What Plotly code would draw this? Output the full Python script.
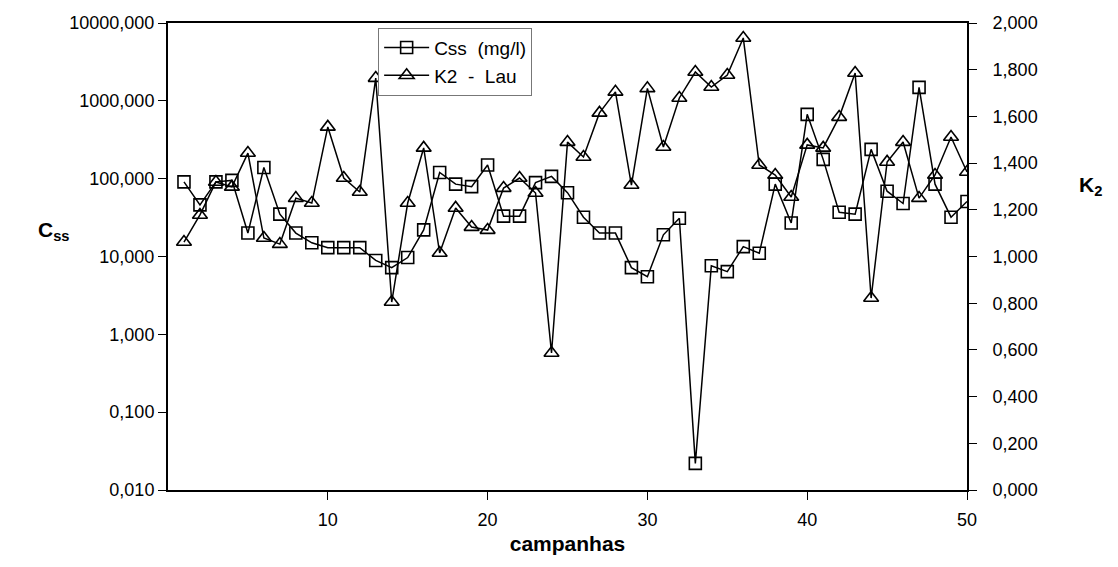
import plotly.graph_objects as go

campanhas = list(range(1, 51))
css = [91, 46, 91, 95, 20, 139, 35, 20, 15, 13,
       13, 13, 8.9, 7.2, 9.7, 22, 120, 85, 79, 150,
       33, 33, 89, 107, 66, 32, 20, 20, 7.2, 5.5,
       19, 31, 0.022, 7.6, 6.4, 13.4, 11, 85, 27, 670,
       177, 37, 35, 238, 69, 48, 1490, 85, 32, 51]
k2 = [1.062, 1.178, 1.319, 1.298, 1.443, 1.079, 1.053, 1.25, 1.229, 1.555,
      1.336, 1.276, 1.764, 0.805, 1.229, 1.465, 1.015, 1.208, 1.126, 1.113,
      1.293, 1.336, 1.272, 0.587, 1.49, 1.426, 1.615, 1.705, 1.306, 1.72,
      1.469, 1.679, 1.79, 1.726, 1.777, 1.936, 1.392, 1.349, 1.255, 1.478,
      1.465, 1.597, 1.786, 0.822, 1.405, 1.49, 1.25, 1.349, 1.512, 1.362]

left_tickvals = [0.01, 0.1, 1, 10, 100, 1000, 10000]
left_ticktext = ["0,010", "0,100", "1,000", "10,000", "100,000", "1000,000", "10000,000"]
right_tickvals = [0, 0.2, 0.4, 0.6, 0.8, 1.0, 1.2, 1.4, 1.6, 1.8, 2.0]
right_ticktext = ["0,000", "0,200", "0,400", "0,600", "0,800", "1,000", "1,200", "1,400", "1,600", "1,800", "2,000"]
x_tickvals = [10, 20, 30, 40, 50]

FONT = "Liberation Sans, Arial, sans-serif"

fig = go.Figure()
fig.add_trace(go.Scatter(
    x=campanhas, y=css, name="Css  (mg/l)", mode="lines+markers",
    line=dict(color="black", width=1.5),
    marker=dict(symbol="square-open", size=12, color="black", line=dict(width=1.6)),
    yaxis="y"))
fig.add_trace(go.Scatter(
    x=campanhas, y=k2, name="K2  -  Lau", mode="lines+markers",
    line=dict(color="black", width=1.5),
    marker=dict(symbol="triangle-up-open", size=13, color="black", line=dict(width=1.6)),
    yaxis="y2"))

fig.update_layout(
    width=1118, height=567,
    margin=dict(l=168, r=151, t=23, b=77),
    paper_bgcolor="white", plot_bgcolor="white",
    font=dict(family=FONT, size=18, color="black"),
    showlegend=True,
    legend=dict(x=0.263, y=0.99, xanchor="left", yanchor="top",
                bgcolor="white", bordercolor="#777", borderwidth=1,
                font=dict(size=19), tracegroupgap=0, itemwidth=45),
    xaxis=dict(range=[0, 50], tickvals=x_tickvals, ticks="outside", ticklen=8,
               tickcolor="black", showline=True, linecolor="black", linewidth=2,
               mirror=True, showgrid=False, zeroline=False, ticklabelstandoff=4,
               title=dict(text="<b>campanhas</b>", font=dict(size=21), standoff=8)),
    yaxis=dict(type="log", range=[-2, 4], tickvals=left_tickvals, ticktext=left_ticktext,
               ticks="outside", ticklen=8, tickcolor="black", showline=True,
               linecolor="black", linewidth=2, showgrid=False, zeroline=False),
    yaxis2=dict(overlaying="y", side="right", range=[0, 2], tickvals=right_tickvals,
                ticktext=right_ticktext, ticks="outside", ticklen=8, tickcolor="black",
                showline=True, linecolor="black", linewidth=2, showgrid=False,
                zeroline=False, ticklabelstandoff=12),
    annotations=[
        dict(text="<b>C<sub>ss</sub></b>", xref="paper", yref="paper",
             x=-0.143, y=0.555, xanchor="center", yanchor="middle",
             showarrow=False, font=dict(size=21)),
        dict(text="<b>K<sub>2</sub></b>", xref="paper", yref="paper",
             x=1.155, y=0.65, xanchor="center", yanchor="middle",
             showarrow=False, font=dict(size=21)),
    ],
)

fig.write_html("out.html")
